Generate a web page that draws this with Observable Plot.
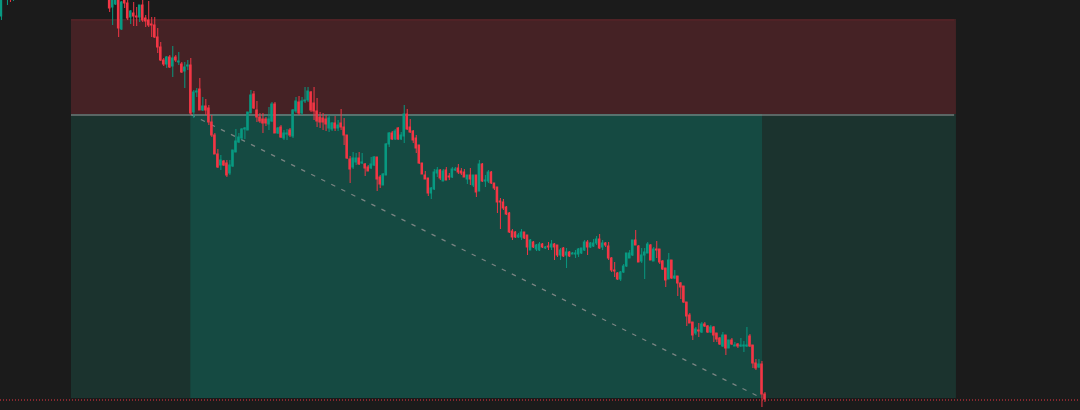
<!DOCTYPE html>
<html><head><meta charset="utf-8">
<script src="https://cdn.jsdelivr.net/npm/d3@7"></script>
<script src="https://cdn.jsdelivr.net/npm/@observablehq/plot@0.6"></script>
<style>
html,body{margin:0;padding:0;background:#1b1b1b;overflow:hidden;}
#chart svg{display:block;}
</style></head><body><div id="chart"></div>
<script>
// bar index of each candle (bars 5-35 lie above the visible price range)
const bars = [0, 2, 3, 4, ...d3.range(36, 255)];

const open = [484, 503, 508, 503,
503, 493, 496, 504, 471, 500, 497, 483, 487, 484,
483, 495, 482, 480, 476, 475, 463, 453, 440, 436,
443, 434, 443, 438, 436, 429, 434, 435, 388, 408,
411, 390, 394, 392, 378, 365, 346, 335, 339, 337,
327, 334, 348, 358, 362, 371, 370, 387, 406, 390,
383, 381, 381, 376, 379, 396, 367, 373, 362, 366,
370, 364, 389, 398, 387, 399, 400, 408, 397, 389,
383, 382, 381, 372, 371, 377, 372, 377, 373, 365,
341, 333, 338, 342, 337, 336, 333, 332, 335, 343,
323, 315, 325, 356, 367, 361, 372, 361, 364, 386,
373, 369, 362, 355, 337, 325, 322, 307, 311, 327,
330, 319, 330, 324, 323, 330, 332, 329, 328, 321,
325, 315, 325, 309, 336, 319, 319, 328, 317, 313,
299, 298, 293, 287, 269, 268, 263, 263, 268, 265,
250, 258, 251, 250, 256, 252, 254, 253, 256, 255,
245, 252, 245, 248, 246, 246, 246, 247, 250, 258,
253, 254, 257, 261, 253, 257, 254, 242, 230, 227,
221, 228, 234, 242, 245, 260, 254, 239, 245, 247,
255, 239, 251, 251, 239, 232, 221, 240, 222, 224,
217, 214, 198, 185, 178, 167, 170, 168, 176, 174,
168, 173, 167, 162, 154, 165, 152, 160, 154, 156,
154, 154, 154, 164, 155, 137, 133, 136, 106];

const high = [505, 510, 512, 512,
505, 505, 503, 506, 499, 502, 500, 490, 498, 493,
495, 500, 485, 499, 483, 483, 472, 458, 442, 444,
445, 454, 445, 448, 438, 438, 440, 442, 410, 412,
422, 403, 401, 395, 385, 367, 351, 345, 340, 340,
340, 350, 371, 367, 372, 373, 388, 410, 409, 399,
387, 387, 383, 393, 398, 398, 373, 375, 370, 371,
372, 391, 403, 404, 403, 413, 413, 409, 413, 402,
388, 387, 385, 385, 378, 384, 380, 391, 382, 365,
344, 348, 347, 348, 347, 337, 335, 343, 344, 343,
325, 327, 357, 368, 369, 371, 373, 368, 395, 391,
381, 370, 365, 355, 337, 329, 322, 313, 331, 333,
331, 331, 333, 327, 333, 333, 336, 332, 331, 325,
332, 325, 325, 340, 337, 325, 330, 329, 317, 313,
302, 301, 294, 288, 271, 269, 267, 271, 268, 265,
261, 259, 256, 258, 257, 254, 258, 260, 257, 255,
252, 253, 252, 249, 248, 250, 252, 252, 260, 260,
258, 261, 264, 266, 260, 258, 258, 243, 238, 228,
229, 236, 247, 250, 260, 270, 255, 252, 252, 258,
256, 253, 259, 251, 240, 232, 247, 240, 230, 224,
218, 214, 198, 187, 178, 173, 177, 178, 178, 175,
175, 174, 167, 163, 168, 165, 160, 162, 158, 157,
162, 159, 173, 166, 155, 141, 141, 139, 108];

const low = [480, 495, 498, 499,
488, 475, 495, 463, 470, 492, 480, 476, 474, 474,
478, 478, 473, 473, 463, 462, 447, 439, 434, 432,
432, 423, 438, 435, 427, 412, 430, 385, 382, 403,
390, 389, 385, 375, 363, 346, 332, 330, 334, 323,
325, 333, 348, 357, 360, 361, 370, 387, 391, 378,
377, 367, 374, 370, 378, 367, 366, 362, 360, 360,
363, 362, 387, 385, 385, 397, 398, 388, 380, 373,
372, 370, 369, 368, 369, 369, 369, 370, 355, 341,
317, 331, 335, 335, 336, 324, 329, 331, 334, 309,
312, 315, 325, 353, 360, 360, 360, 360, 357, 370,
367, 357, 347, 336, 326, 321, 304, 301, 310, 323,
320, 319, 320, 320, 322, 329, 326, 325, 323, 316,
315, 313, 303, 309, 318, 313, 317, 316, 310, 287,
271, 290, 285, 267, 260, 262, 262, 260, 261, 245,
250, 252, 249, 249, 252, 251, 250, 250, 240, 243,
240, 243, 232, 243, 246, 242, 243, 246, 249, 245,
252, 253, 255, 251, 250, 253, 240, 228, 223, 220,
219, 227, 233, 242, 244, 255, 238, 237, 221, 247,
240, 239, 242, 236, 230, 213, 221, 221, 221, 204,
201, 197, 174, 177, 160, 165, 163, 167, 173, 167,
167, 158, 158, 155, 153, 145, 152, 155, 154, 152,
153, 148, 153, 153, 132, 130, 132, 93, 98];

const close = [502, 508, 504, 509,
492, 501, 500, 472, 498, 497, 482, 489, 484, 483,
495, 480, 479, 475, 475, 463, 453, 440, 436, 443,
433, 442, 440, 439, 428, 433, 435, 387, 408, 409,
390, 394, 390, 378, 365, 346, 333, 340, 335, 325,
335, 350, 359, 363, 371, 372, 388, 405, 392, 383,
379, 377, 377, 381, 396, 367, 372, 363, 367, 367,
365, 390, 399, 387, 399, 400, 409, 390, 389, 379,
378, 378, 376, 382, 377, 372, 375, 373, 365, 342,
331, 342, 342, 336, 338, 332, 329, 336, 343, 321,
316, 326, 356, 367, 361, 369, 361, 365, 386, 371,
368, 360, 352, 337, 326, 321, 307, 312, 328, 330,
322, 329, 320, 323, 331, 331, 328, 327, 323, 325,
321, 325, 308, 336, 319, 320, 328, 317, 312, 298,
298, 292, 286, 268, 263, 263, 265, 268, 262, 253,
260, 253, 255, 256, 253, 253, 253, 256, 253, 245,
250, 244, 248, 244, 247, 247, 251, 252, 258, 253,
257, 257, 261, 252, 257, 255, 242, 230, 229, 221,
228, 234, 247, 247, 260, 255, 238, 245, 248, 256,
240, 251, 250, 238, 231, 220, 240, 222, 224, 217,
213, 198, 184, 177, 165, 171, 169, 176, 174, 168,
173, 165, 161, 156, 165, 152, 160, 156, 155, 154,
155, 155, 155, 154, 137, 132, 136, 106, 101];

// short position tool
const stopPrice = 481, entryPrice = 386, targetPrice = 102;
const toolStartBar = 23.3, entryBar = 63, exitBar = 253.2, toolEndBar = 317.7;
const lastClose = close[close.length - 1];

const UP = "#089981", DOWN = "#f23645";
const candles = bars.map((b, i) => ({bar: b, open: open[i], high: high[i], low: low[i], close: close[i]}));
const ups = candles.filter(d => d.close >= d.open);
const downs = candles.filter(d => d.close < d.open);

const chart = Plot.plot({
  width: 1080, height: 410,
  margin: 0,
  x: {domain: [-0.31, 358.97], axis: null},
  y: {domain: [90, 500], axis: null},
  style: {background: "#1b1b1b", overflow: "hidden"},
  marks: [
    Plot.rect([{a: toolStartBar, b: toolEndBar, lo: entryPrice, hi: stopPrice}],
      {x1: "a", x2: "b", y1: "lo", y2: "hi", fill: "#452225"}),
    Plot.rect([{a: toolStartBar, b: toolEndBar, lo: targetPrice, hi: entryPrice}],
      {x1: "a", x2: "b", y1: "lo", y2: "hi", fill: "#1b332e"}),
    Plot.rect([{a: entryBar, b: exitBar, lo: targetPrice, hi: entryPrice}],
      {x1: "a", x2: "b", y1: "lo", y2: "hi", fill: "#154a42"}),
    Plot.ruleY([{y: stopPrice, a: toolStartBar, b: toolEndBar - 0.6}],
      {y: "y", x1: "a", x2: "b", stroke: "#5c2328", strokeWidth: 1, dy: 0.5}),
    Plot.ruleY([{y: entryPrice, a: toolStartBar, b: toolEndBar - 0.6}],
      {y: "y", x1: "a", x2: "b", stroke: "#9a9a9a", strokeWidth: 1, dy: 0.5}),
    Plot.link([{a: entryBar, p: entryPrice, b: exitBar, q: targetPrice}],
      {x1: "a", y1: "p", x2: "b", y2: "q", stroke: "#8a8d8c", strokeOpacity: 0.85, strokeWidth: 1.3, strokeDasharray: "4.5,6.7"}),
    Plot.ruleX(ups, {x: "bar", y1: "low", y2: "high", stroke: UP, strokeWidth: 1, clip: true}),
    Plot.ruleX(downs, {x: "bar", y1: "low", y2: "high", stroke: DOWN, strokeWidth: 1, clip: true}),
    Plot.rect(ups, {x1: d => d.bar - 0.42, x2: d => d.bar + 0.42, y1: "open", y2: "close",
      fill: UP, insetTop: -0.5, insetBottom: -0.5, clip: true}),
    Plot.rect(downs, {x1: d => d.bar - 0.42, x2: d => d.bar + 0.42, y1: "open", y2: "close",
      fill: DOWN, insetTop: -0.5, insetBottom: -0.5, clip: true}),
    Plot.ruleY([lastClose], {stroke: DOWN, strokeWidth: 1, strokeDasharray: "1,2", dy: 0.5})
  ]
});
document.getElementById("chart").appendChild(chart);
</script>
</body></html>
